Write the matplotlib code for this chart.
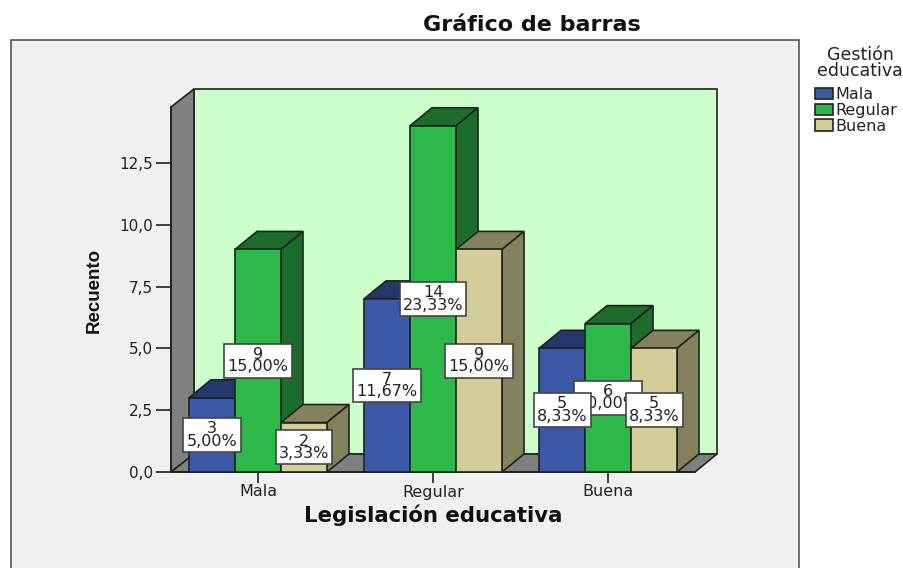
import matplotlib
matplotlib.use('Agg')
import matplotlib.pyplot as plt
from matplotlib.patches import Polygon, Patch, Rectangle

categories = ['Mala', 'Regular', 'Buena']
series = ['Mala', 'Regular', 'Buena']
mala = [3, 7, 5]
regular = [9, 14, 6]
buena = [2, 9, 5]
pct_mala = ['5,00%', '11,67%', '8,33%']
pct_regular = ['15,00%', '23,33%', '10,00%']
pct_buena = ['3,33%', '15,00%', '8,33%']
yticks = [0, 2.5, 5, 7.5, 10, 12.5]
ylabels = ['0,0', '2,5', '5,0', '7,5', '10,0', '12,5']

W, H = 904, 568
front = ['#3e58a8', '#2db84a', '#d3ce97']
dark = ['#25386e', '#1c6d2b', '#84815e']
edge = '#1c2420'

fig = plt.figure(figsize=(W / 100, H / 100), dpi=100, facecolor='white')
plt.rcParams['font.family'] = ['DejaVu Sans']

# grey panel behind the chart
fig.add_artist(Rectangle((11 / W, -0.02), 788 / W, (H - 40) / H + 0.02, transform=fig.transFigure,
                         facecolor='#f0f0f0', edgecolor='#555555', linewidth=1.2, zorder=-1))

ax = fig.add_axes([171 / W, (H - 472) / H, 524 / W, 365 / H])
ax.patch.set_visible(False)
ax.set_xlim(-0.497, 2.497)
ax.set_ylim(0, 14.76)

dx = 22 / 175.0  # depth of the fake 3d
dy = 18 / 24.72
width = 46 / 175.0
x0, x1 = ax.get_xlim()
y1 = ax.get_ylim()[1]

# walls and floor
ax.add_patch(Rectangle((x0 + 23 / 175.0, dy), x1 - x0 - 1 / 175.0, y1, facecolor='#ccffcc', edgecolor=edge, lw=1.2, clip_on=False, zorder=1))
ax.add_patch(Polygon([(x0, 0), (x0 + 23 / 175.0, dy), (x0 + 23 / 175.0, y1 + dy), (x0, y1)], facecolor='#808080', edgecolor=edge, lw=1.2, clip_on=False, zorder=1))
ax.add_patch(Polygon([(x0, 0), (x1, 0), (x1 + dx, dy), (x0 + 23 / 175.0, dy)], facecolor='#808080', edgecolor=edge, lw=1.2, clip_on=False, zorder=1))

data = [mala, regular, buena]
pcts = [pct_mala, pct_regular, pct_buena]
labels = []
for s, vals in enumerate(data):
    for c, v in enumerate(vals):
        left = c + (s - 1.5) * width
        z = 2 + c * 3 + s * 0.5
        ax.bar(left, v, width, align='edge', color=front[s], edgecolor=edge, linewidth=1.2, zorder=z + 0.2, clip_on=False)
        ax.add_patch(Polygon([(left, v), (left + width, v), (left + width + dx, v + dy), (left + dx, v + dy)],
                             facecolor=dark[s], edgecolor=edge, lw=1.2, clip_on=False, zorder=z))
        ax.add_patch(Polygon([(left + width, 0), (left + width + dx, dy), (left + width + dx, v + dy), (left + width, v)],
                             facecolor=dark[s], edgecolor=edge, lw=1.2, clip_on=False, zorder=z))
        labels.append((left + width / 2, v / 2, '%d\n%s' % (v, pcts[s][c]), s))

for x, y, txt, s in labels:
    order = {1: 30, 0: 31, 2: 32}[s]
    ax.text(x, y, txt, ha='center', va='center', fontsize=11.5, color='#222222', linespacing=0.78, zorder=order,
            bbox=dict(boxstyle='square,pad=0.2', facecolor='white', edgecolor='#444444', linewidth=1.2))

ax.set_xticks(range(len(categories)))
ax.set_xticklabels(categories, fontsize=11.5, color='#222222')
ax.set_yticks(yticks)
ax.set_yticklabels(ylabels, fontsize=11, color='#222222')
ax.tick_params(axis='y', length=11, width=1.2, pad=2, color=edge)
ax.tick_params(axis='x', length=8, width=1.2, pad=1, color=edge)
for name in ['top', 'right']:
    ax.spines[name].set_visible(False)
for name in ['left', 'bottom']:
    ax.spines[name].set_linewidth(1.2)
    ax.spines[name].set_color(edge)
    ax.spines[name].set_zorder(1.5)

fig.text(532 / W, 1 - 25 / H, 'Gráfico de barras', ha='center', va='center', fontsize=16, fontweight='bold', color='#111111')
fig.text(433 / W, 1 - 515 / H, 'Legislación educativa', ha='center', va='center', fontsize=15.3, fontweight='bold', color='#111111')
fig.text(94 / W, 1 - 290 / H, 'Recuento', ha='center', va='center', rotation=90, fontsize=13.5, fontweight='bold',
         family='Liberation Sans', color='#111111')

# legend title is centred over the whole block, so it is separate from the entries
fig.text(860 / W, 1 - 63 / H, 'Gestión\neducativa', ha='center', va='center', fontsize=12.5, linespacing=0.9, color='#222222')
handles = [Patch(facecolor=front[i], edgecolor=edge, linewidth=1.2, label=series[i]) for i in range(3)]
fig.legend(handles=handles, loc='upper left', bbox_to_anchor=(815 / W, 1 - 87 / H),
           frameon=False, fontsize=11.5, handlelength=1.1, handleheight=0.75, handletextpad=0.2,
           labelspacing=0.06, borderpad=0, borderaxespad=0, labelcolor='#222222')

fig.savefig('out.png', dpi=100, facecolor='white')
